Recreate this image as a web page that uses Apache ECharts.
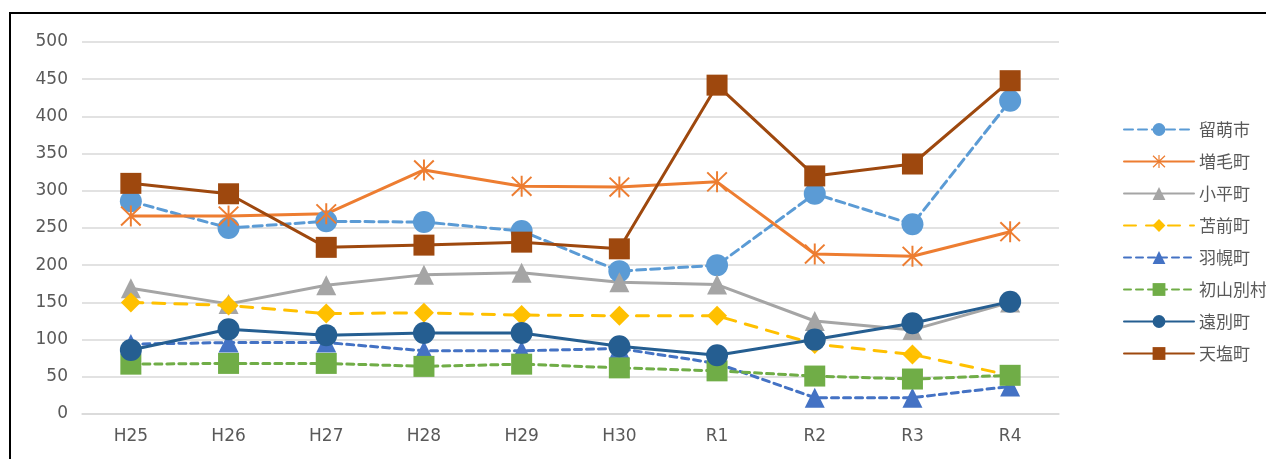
<!DOCTYPE html>
<html>
<head>
<meta charset="utf-8">
<script src="https://cdn.jsdelivr.net/npm/echarts@6/dist/echarts.min.js"></script>
<style>
  html, body { margin: 0; padding: 0; background: #fff; }
  #chart { width: 1266px; height: 459px; }
  #frame { position: absolute; left: 9px; top: 12px; right: -5px; bottom: -5px;
           border-left: 2px solid #000; border-top: 2px solid #000; pointer-events: none; }
</style>
</head>
<body>
<div id="chart"></div>
<div id="frame"></div>
<script>
const years = ['H25', 'H26', 'H27', 'H28', 'H29', 'H30', 'R1', 'R2', 'R3', 'R4'];

const rumoi      = [286, 250, 259, 258, 246, 192, 200, 296, 255, 421];
const mashike    = [266, 266, 269, 328, 306, 305, 312, 215, 212, 245];
const obira      = [169, 148, 173, 187, 190, 177, 174, 125, 113, 150];
const tomamae    = [150, 146, 135, 136, 133, 132, 132, 94, 80, 52];
const haboro     = [94, 96, 96, 85, 85, 88, 68, 22, 22, 37];
const shosanbetsu = [67, 68, 68, 64, 67, 62, 58, 51, 47, 52];
const enbetsu    = [86, 114, 106, 109, 109, 91, 79, 100, 122, 151];
const teshio     = [310, 296, 224, 227, 231, 222, 442, 320, 336, 448];

// asterisk marker (vertical bar + X), Excel "star" style
const asterisk = 'path://M9.1 0L10.9 0L10.9 20L9.1 20Z' +
  'M1.64 0.36L19.64 18.36L18.36 19.64L0.36 1.64Z' +
  'M18.36 0.36L19.64 1.64L1.64 19.64L0.36 18.36Z';

function line(name, data, color, symbol, size, dash) {
  return {
    name: name,
    type: 'line',
    data: data,
    symbol: symbol,
    symbolSize: size,
    showAllSymbol: true,
    itemStyle: { color: color },
    lineStyle: { color: color, width: 3, type: dash || 'solid', cap: 'round' },
    emphasis: { disabled: true }
  };
}

const chart = echarts.init(document.getElementById('chart'));
chart.setOption({
  animation: false,
  textStyle: { fontFamily: 'DejaVu Sans, sans-serif' },
  grid: { left: 82, right: 207, top: 42, bottom: 45 },
  legend: {
    orient: 'vertical',
    left: 1118,
    top: 116,
    itemWidth: 70,
    itemHeight: 16,
    itemGap: 15,
    textStyle: { fontSize: 17, color: '#595959', fontFamily: 'Noto Sans CJK JP' }
  },
  xAxis: {
    type: 'category',
    data: years,
    axisLine: { lineStyle: { color: '#D9D9D9', width: 1.5 } },
    axisTick: { show: false },
    axisLabel: { color: '#595959', fontSize: 17, margin: 14 }
  },
  yAxis: {
    type: 'value',
    min: 0,
    max: 500,
    interval: 50,
    axisLine: { show: false },
    axisTick: { show: false },
    axisLabel: { color: '#595959', fontSize: 17, margin: 14 },
    splitLine: { lineStyle: { color: '#D9D9D9', width: 1.5 } }
  },
  series: [
    line('留萌市', rumoi, '#5B9BD5', 'circle', 22, [9, 5]),
    line('増毛町', mashike, '#ED7D31', asterisk, 21),
    line('小平町', obira, '#A5A5A5', 'triangle', 20),
    line('苫前町', tomamae, '#FFC000', 'diamond', 20, [12, 10]),
    line('羽幌町', haboro, '#4472C4', 'triangle', 20, [7, 5]),
    line('初山別村', shosanbetsu, '#70AD47', 'rect', 21, [7, 5]),
    line('遠別町', enbetsu, '#255E91', 'circle', 22),
    line('天塩町', teshio, '#9E480E', 'rect', 21)
  ]
});
</script>
</body>
</html>
